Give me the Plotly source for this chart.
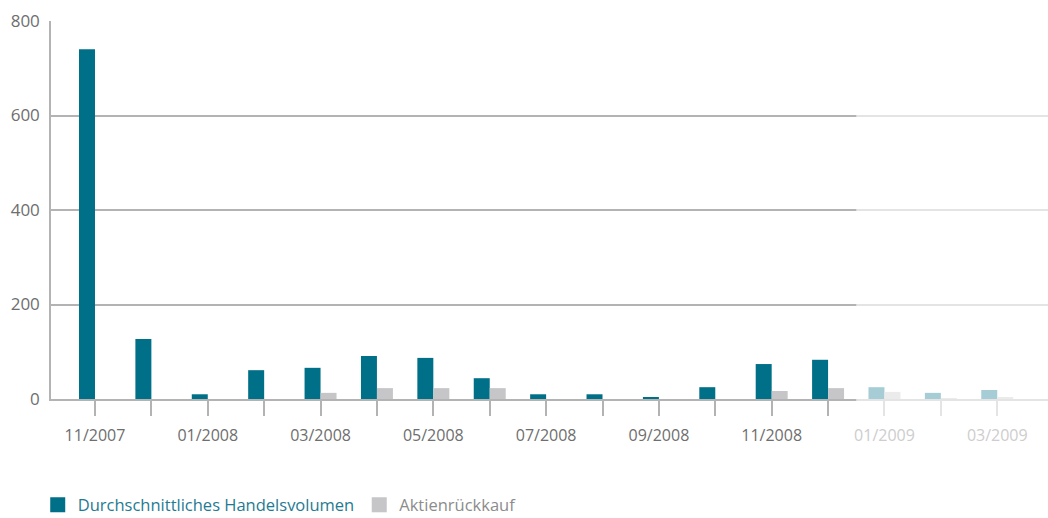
import plotly.graph_objects as go

months = ["11/2007", "12/2007", "01/2008", "02/2008", "03/2008", "04/2008",
          "05/2008", "06/2008", "07/2008", "08/2008", "09/2008", "10/2008",
          "11/2008", "12/2008", "01/2009", "02/2009", "03/2009"]
volume = [740, 127, 10, 61, 66, 91, 87, 44, 10, 10, 4, 25, 74, 83, 25, 13, 19]
buyback = [0, 0, 0, 0, 13, 23, 23, 23, 0, 0, 0, 0, 17, 23, 15, 2, 4]
forecast_start = 14  # index of first faded month (01/2009)
y_ticks = [0, 200, 400, 600, 800]

TEAL = "#006f88"
GREY = "#c6c6c8"
AXIS = "#b3b3b3"
LABEL = "#6e6e6e"
LABEL_FADED = "#cdcdcd"
FONT = "Open Sans"

tick_labels = []
for i, m in enumerate(months):
    if i % 2:
        tick_labels.append("")
    elif i >= forecast_start:
        tick_labels.append(f"<span style='color:{LABEL_FADED}'>{m}</span>")
    else:
        tick_labels.append(m)

fig = go.Figure()
fig.add_trace(go.Bar(x=months, y=volume, marker=dict(color=TEAL, line=dict(width=0)),
                     showlegend=False))
fig.add_trace(go.Bar(x=months, y=buyback, marker=dict(color=GREY, line=dict(width=0)),
                     showlegend=False))
# legend entries with square markers
fig.add_trace(go.Scatter(x=[None], y=[None], mode="markers",
                         marker=dict(symbol="square", size=15, color=TEAL),
                         name="<span style='color:#1f7a92'>Durchschnittliches Handelsvolumen</span>"))
fig.add_trace(go.Scatter(x=[None], y=[None], mode="markers",
                         marker=dict(symbol="square", size=15, color=GREY),
                         name="<span style='color:#8c8c8c'>Aktienrückkauf</span>"))

# fade overlay for the forecast months (01/2009 onwards)
fig.add_shape(type="rect", xref="x", yref="paper", x0=forecast_start - 0.5, x1=17.5,
              y0=-0.045, y1=1.01,
              fillcolor="white", opacity=0.65, line=dict(width=0), layer="above")

fig.update_layout(
    width=1048, height=518,
    margin=dict(l=51, r=0, t=21, b=119, autoexpand=False),
    paper_bgcolor="white", plot_bgcolor="white",
    barmode="group", bargap=0.433, bargroupgap=0,
    font=dict(family=FONT, size=16, color=LABEL),
    legend=dict(orientation="h", xref="container", yref="container",
                x=0.036, xanchor="left", y=0.025, yanchor="middle",
                font=dict(family=FONT, size=16.5), itemclick=False,
                bgcolor="rgba(0,0,0,0)"),
)
fig.update_xaxes(
    type="category", range=[-0.78, 16.9],
    tickmode="array", tickvals=months, ticktext=tick_labels,
    ticks="outside", ticklen=15, tickwidth=1.5, tickcolor=AXIS,
    showline=True, linecolor=AXIS, linewidth=1.5,
    showgrid=False, zeroline=False, ticklabelstandoff=6,
    tickfont=dict(family=FONT, size=16, color=LABEL),
)
fig.update_yaxes(
    range=[0, 800], tickmode="array", tickvals=y_ticks,
    showgrid=True, gridcolor=AXIS, gridwidth=1.5,
    showline=True, linecolor=AXIS, linewidth=1.5,
    zeroline=False, ticks="", ticklabelstandoff=6,
    tickfont=dict(family=FONT, size=17, color=LABEL),
)

fig.write_html("out.html", config={"displayModeBar": False},
               post_script="document.body.style.margin='0px';")
